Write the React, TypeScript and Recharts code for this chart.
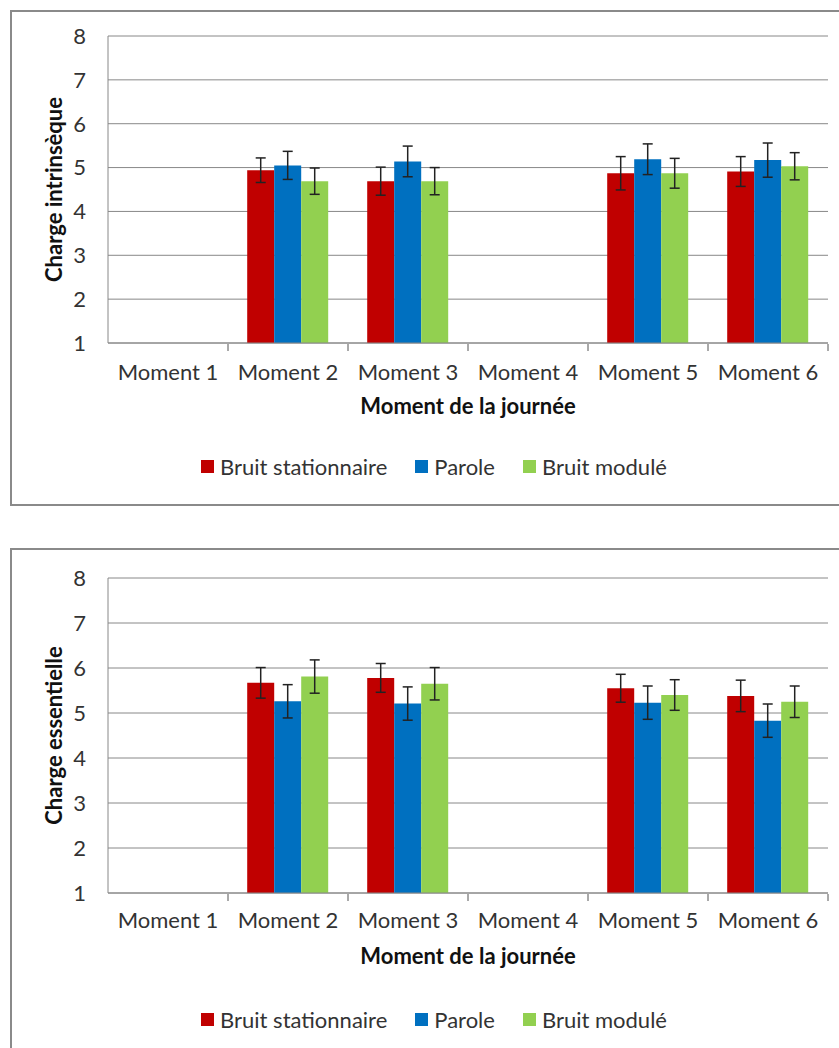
import React from 'react';
import {
  BarChart,
  Bar,
  XAxis,
  YAxis,
  CartesianGrid,
  Legend,
  ErrorBar,
  Label,
} from 'recharts';

// Catégories et séries
const moments = ['Moment 1', 'Moment 2', 'Moment 3', 'Moment 4', 'Moment 5', 'Moment 6'];
const yTicks = [1, 2, 3, 4, 5, 6, 7, 8];
const seriesNames = ['Bruit stationnaire', 'Parole', 'Bruit modulé'];

// Charge intrinsèque
const stationnaire1 = [null, 4.94, 4.69, null, 4.87, 4.91];
const stationnaireErr1 = [null, 0.28, 0.32, null, 0.38, 0.34];
const parole1 = [null, 5.05, 5.14, null, 5.19, 5.17];
const paroleErr1 = [null, 0.32, 0.35, null, 0.35, 0.39];
const module1 = [null, 4.69, 4.69, null, 4.87, 5.03];
const moduleErr1 = [null, 0.3, 0.31, null, 0.34, 0.31];

// Charge essentielle
const stationnaire2 = [null, 5.67, 5.78, null, 5.55, 5.38];
const stationnaireErr2 = [null, 0.34, 0.32, null, 0.31, 0.35];
const parole2 = [null, 5.26, 5.21, null, 5.23, 4.83];
const paroleErr2 = [null, 0.37, 0.37, null, 0.37, 0.37];
const module2 = [null, 5.81, 5.65, null, 5.4, 5.25];
const moduleErr2 = [null, 0.37, 0.36, null, 0.34, 0.35];

const ROUGE = '#C00000';
const BLEU = '#0070C0';
const VERT = '#92D050';
const FONT = 'Lato, "Open Sans", sans-serif';
const FS = 22;

function buildRows(s: any[], se: any[], p: any[], pe: any[], m: any[], me: any[]) {
  return moments.map((moment, i) => ({
    moment,
    stationnaire: s[i],
    stationnaireErr: se[i],
    parole: p[i],
    paroleErr: pe[i],
    module: m[i],
    moduleErr: me[i],
  }));
}

const data1 = buildRows(stationnaire1, stationnaireErr1, parole1, paroleErr1, module1, moduleErr1);
const data2 = buildRows(stationnaire2, stationnaireErr2, parole2, paroleErr2, module2, moduleErr2);

// tick de l'axe X : libellé au centre + petit trait à la limite de la catégorie
function MomentTick(props: any) {
  const { x, y, payload, labelDy } = props;
  const half = payload && payload.offset ? payload.offset : 60;
  return (
    <g>
      <line x1={x + half} x2={x + half} y1={y} y2={y - 7} stroke="#555" strokeWidth={1} />
      <text x={x} y={y + labelDy} textAnchor="middle" fill="#333" fontSize={FS} fontFamily={FONT}>
        {payload.value}
      </text>
    </g>
  );
}

function LegendContent(props: any) {
  const items = [...(props.payload || [])].sort(
    (a: any, b: any) => seriesNames.indexOf(a.value) - seriesNames.indexOf(b.value)
  );
  return (
    <div style={{ display: 'flex', justifyContent: 'center', paddingLeft: 32, fontFamily: FONT, fontSize: FS, color: '#333' }}>
      {items.map((entry: any) => (
        <div key={entry.value} style={{ display: 'flex', alignItems: 'center', margin: '0 14px' }}>
          <span style={{ width: 13, height: 13, background: entry.color, marginRight: 6, display: 'inline-block' }} />
          <span>{entry.value}</span>
        </div>
      ))}
    </div>
  );
}

function Panel({ data, top, height, yTitle, marginTop, marginBottom, xAxisHeight, labelDy }: any) {
  return (
    <div style={{ position: 'absolute', left: 0, top, width: 839, height }}>
      <BarChart
        width={839}
        height={height}
        data={data}
        margin={{ top: marginTop, right: 11, left: 8, bottom: marginBottom }}
        barGap={0}
        barCategoryGap="16%"
      >
        <CartesianGrid vertical={false} stroke="#888" />
        <XAxis
          dataKey="moment"
          height={xAxisHeight}
          axisLine={{ stroke: '#888' }}
          tickLine={false}
          tick={<MomentTick labelDy={labelDy} />}
          interval={0}
        >
          <Label
            value="Moment de la journée"
            position="insideTop"
            offset={55}
            style={{ fontFamily: FONT, fontSize: FS, fontWeight: 700, fill: '#111' }}
          />
        </XAxis>
        <YAxis
          width={100}
          domain={[1, 8]}
          ticks={yTicks}
          allowDataOverflow
          axisLine={{ stroke: '#888' }}
          tickLine={false}
          tickMargin={16}
          tick={{ fill: '#333', fontSize: FS, fontFamily: FONT }}
        >
          <Label
            value={yTitle}
            angle={-90}
            position="insideLeft"
            offset={46}
            style={{ textAnchor: 'middle', fontFamily: FONT, fontSize: FS, fontWeight: 700, fill: '#111' }}
          />
        </YAxis>
        <Legend verticalAlign="bottom" content={<LegendContent />} />
        <Bar dataKey="stationnaire" name={seriesNames[0]} fill={ROUGE} isAnimationActive={false}>
          <ErrorBar dataKey="stationnaireErr" width={5} stroke="#222" strokeWidth={1.5} />
        </Bar>
        <Bar dataKey="parole" name={seriesNames[1]} fill={BLEU} isAnimationActive={false}>
          <ErrorBar dataKey="paroleErr" width={5} stroke="#222" strokeWidth={1.5} />
        </Bar>
        <Bar dataKey="module" name={seriesNames[2]} fill={VERT} isAnimationActive={false}>
          <ErrorBar dataKey="moduleErr" width={5} stroke="#222" strokeWidth={1.5} />
        </Bar>
      </BarChart>
    </div>
  );
}

export default function App() {
  const frame = { position: 'absolute' as const, left: 10, width: 840, border: '2px solid #8a8a8a', boxSizing: 'border-box' as const };
  return (
    <div style={{ position: 'absolute', left: 0, top: 0, width: 839, height: 1048, overflow: 'hidden', background: '#fff' }}>
      <div style={{ ...frame, top: 10, height: 496 }} />
      <div style={{ ...frame, top: 548, height: 520 }} />
      <Panel data={data1} top={0} height={520} yTitle="Charge intrinsèque" marginTop={36} marginBottom={40} xAxisHeight={110} labelDy={29} />
      <Panel data={data2} top={540} height={508} yTitle="Charge essentielle" marginTop={38} marginBottom={15} xAxisHeight={113} labelDy={27} />
    </div>
  );
}
